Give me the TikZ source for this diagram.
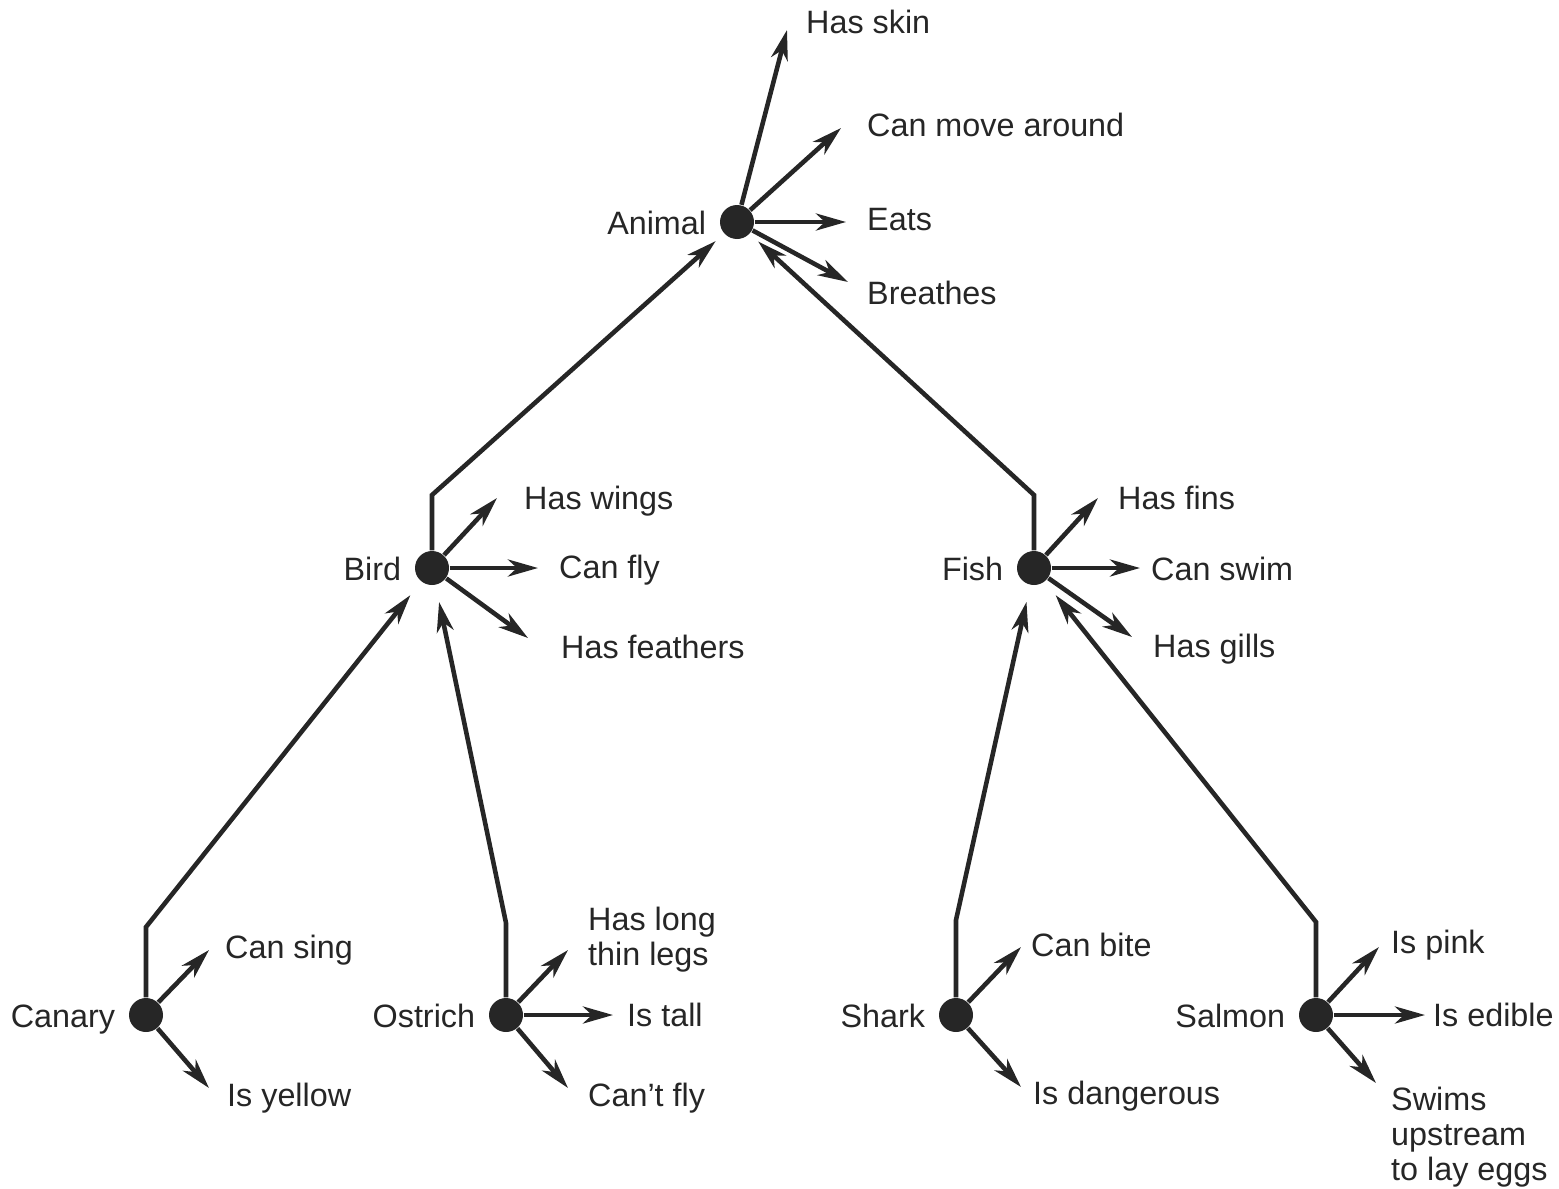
\documentclass[tikz,border=0pt]{standalone}
\usepackage{fontspec}
\setmainfont{Liberation Sans}
\usetikzlibrary{arrows.meta,positioning}
\definecolor{ink}{HTML}{262626}
\tikzset{
  dot/.style={circle,fill=ink,inner sep=0pt,minimum size=3.4mm},
  concept/.style={font=\fontsize{9.2}{10}\selectfont,text=ink,inner sep=1pt},
  conceptlab/.style={concept,text height=1.75ex,text depth=0.45ex},
  feature/.style={concept,anchor=west,align=left},
  has/.style={-{Stealth[length=3mm,width=1.7mm,inset=0.9mm]},line width=1.3pt,draw=ink},
  isa/.style={has,shorten >=#1},
  isa/.default=1.1mm
}

\begin{document}
\begin{tikzpicture}[x=1cm,y=1cm]
    \useasboundingbox (0,0) rectangle (15.59,11.88);

    % concept nodes
    \node[dot] (animal) at (7.37,9.66) {};
    \node[dot] (bird) at (4.32,6.20) {};
    \node[dot] (fish) at (10.34,6.20) {};
    \node[dot] (canary) at (1.46,1.73) {};
    \node[dot] (ostrich) at (5.06,1.73) {};
    \node[dot] (shark) at (9.56,1.73) {};
    \node[dot] (salmon) at (13.16,1.73) {};

    \node[conceptlab,left=0.09cm of animal] (animal-lab) {Animal};
    \node[conceptlab,left=0.09cm of bird] (bird-lab) {Bird};
    \node[conceptlab,left=0.09cm of fish] (fish-lab) {Fish};
    \node[conceptlab,left=0.09cm of canary] (canary-lab) {Canary};
    \node[conceptlab,left=0.09cm of ostrich] (ostrich-lab) {Ostrich};
    \node[conceptlab,left=0.09cm of shark] (shark-lab) {Shark};
    \node[conceptlab,left=0.09cm of salmon] (salmon-lab) {Salmon};

    % is-a links
    \coordinate (bird-bend) at (4.32,6.93);
    \coordinate (fish-bend) at (10.34,6.93);
    \coordinate (canary-bend) at (1.46,2.61);
    \coordinate (ostrich-bend) at (5.06,2.65);
    \coordinate (shark-bend) at (9.56,2.68);
    \coordinate (salmon-bend) at (13.16,2.66);

    \draw[isa] (bird) -- (bird-bend) -- (animal);
    \draw[isa] (fish) -- (fish-bend) -- (animal);
    \draw[isa=1.7mm] (canary) -- (canary-bend) -- (bird);
    \draw[isa=1.7mm] (ostrich) -- (ostrich-bend) -- (bird);
    \draw[isa=1.7mm] (shark) -- (shark-bend) -- (fish);
    \draw[isa=1.7mm] (salmon) -- (salmon-bend) -- (fish);

    % animal properties
    \coordinate (skin-tip) at (7.87,11.58);
    \coordinate (move-tip) at (8.41,10.60);
    \coordinate (eats-tip) at (8.46,9.66);
    \coordinate (breathes-tip) at (8.48,9.06);
    \node[feature] (skin) at (8.02,11.66) {Has skin};
    \node[feature] (move) at (8.63,10.63) {Can move around};
    \node[feature] (eats) at (8.63,9.68) {Eats};
    \node[feature] (breathes) at (8.63,8.95) {Breathes};
    \draw[has] (animal) -- (skin-tip);
    \draw[has] (animal) -- (move-tip);
    \draw[has] (animal) -- (eats-tip);
    \draw[has] (animal) -- (breathes-tip);

    % bird properties
    \coordinate (wings-tip) at (4.97,6.90);
    \coordinate (fly-tip) at (5.38,6.20);
    \coordinate (feathers-tip) at (5.28,5.50);
    \node[feature] (wings) at (5.20,6.87) {Has wings};
    \node[feature] (fly) at (5.55,6.18) {Can fly};
    \node[feature] (feathers) at (5.57,5.41) {Has feathers};
    \draw[has] (bird) -- (wings-tip);
    \draw[has] (bird) -- (fly-tip);
    \draw[has] (bird) -- (feathers-tip);

    % fish properties
    \coordinate (fins-tip) at (10.98,6.90);
    \coordinate (swim-tip) at (11.40,6.20);
    \coordinate (gills-tip) at (11.32,5.51);
    \node[feature] (fins) at (11.14,6.90) {Has fins};
    \node[feature] (swim) at (11.47,6.19) {Can swim};
    \node[feature] (gills) at (11.49,5.39) {Has gills};
    \draw[has] (fish) -- (fins-tip);
    \draw[has] (fish) -- (swim-tip);
    \draw[has] (fish) -- (gills-tip);

    % canary and ostrich
    \coordinate (sing-tip) at (2.09,2.38);
    \coordinate (yellow-tip) at (2.09,1.00);
    \node[feature] (sing) at (2.21,2.38) {Can sing};
    \node[feature] (yellow) at (2.23,0.90) {Is yellow};
    \draw[has] (canary) -- (sing-tip);
    \draw[has] (canary) -- (yellow-tip);

    \coordinate (legs-tip) at (5.68,2.38);
    \coordinate (tall-tip) at (6.13,1.73);
    \coordinate (cantfly-tip) at (5.68,1.00);
    \node[feature] (legs) at (5.84,2.48) {Has long\\thin legs};
    \node[feature] (tall) at (6.23,1.73) {Is tall};
    \node[feature] (cantfly) at (5.84,0.90) {Can't fly};
    \draw[has] (ostrich) -- (legs-tip);
    \draw[has] (ostrich) -- (tall-tip);
    \draw[has] (ostrich) -- (cantfly-tip);

    % shark and salmon
    \coordinate (bite-tip) at (10.21,2.41);
    \coordinate (danger-tip) at (10.21,1.01);
    \node[feature] (bite) at (10.27,2.43) {Can bite};
    \node[feature] (danger) at (10.29,0.92) {Is dangerous};
    \draw[has] (shark) -- (bite-tip);
    \draw[has] (shark) -- (danger-tip);

    \coordinate (pink-tip) at (13.79,2.41);
    \coordinate (edible-tip) at (14.25,1.73);
    \coordinate (upstream-tip) at (13.76,1.05);
    \node[feature] (pink) at (13.87,2.43) {Is pink};
    \node[feature] (edible) at (14.29,1.73) {Is edible};
    \node[feature] (upstream) at (13.87,0.51) {Swims\\upstream\\to lay eggs};
    \draw[has] (salmon) -- (pink-tip);
    \draw[has] (salmon) -- (edible-tip);
    \draw[has] (salmon) -- (upstream-tip);
\end{tikzpicture}
\end{document}
